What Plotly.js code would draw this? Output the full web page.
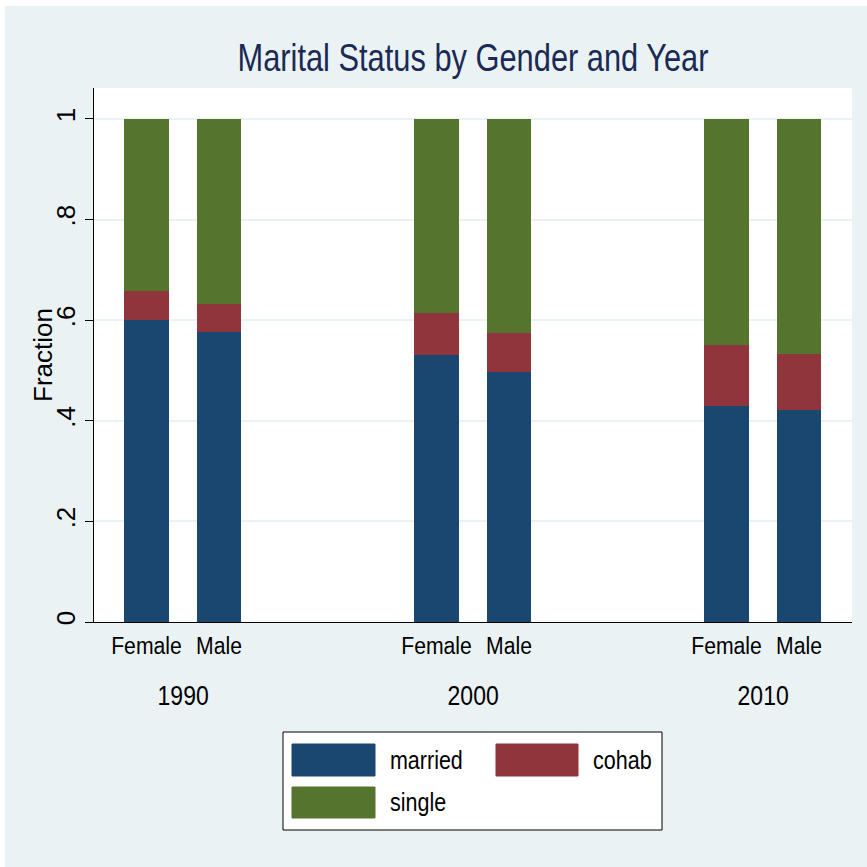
<!DOCTYPE html>
<html>
<head>
<meta charset="utf-8">
<script src="https://cdn.plot.ly/plotly-3.0.1.min.js"></script>
<style>
  html, body { margin: 0; padding: 0; background: #ffffff; }
  #chart { position: absolute; left: 5px; top: 6px; width: 862px; height: 861px; }
</style>
</head>
<body>
<div id="chart"></div>
<script>
// ---- data ----
const years = ['1990', '2000', '2010'];
const genders = ['Female', 'Male'];
const seriesNames = ['married', 'cohab', 'single'];
const married = [0.600, 0.577, 0.531, 0.498, 0.429, 0.421];
const cohab   = [0.058, 0.056, 0.083, 0.077, 0.121, 0.112];
const single  = [0.342, 0.367, 0.386, 0.425, 0.450, 0.467];
const yTickVals = [0, 0.2, 0.4, 0.6, 0.8, 1];
const yTickText = ['0', '.2', '.4', '.6', '.8', '1'];
const yTitle = 'Fraction';

// ---- style ----
const colors = ['#1A476F', '#90353B', '#55752F'];
const font = '"Liberation Sans", Arial, sans-serif';
const bg = '#EAF2F3';

// x layout: groups separated by a gap
const groupStep = 4;
const xs = [], xLabels = [];
years.forEach((y, gi) => genders.forEach((g, si) => { xs.push(gi * groupStep + si); xLabels.push(g); }));
const groupCenters = years.map((y, gi) => gi * groupStep + (genders.length - 1) / 2);

const values = [married, cohab, single];
const traces = seriesNames.map((name, i) => ({
  type: 'bar', name: name, x: xs, y: values[i],
  marker: { color: colors[i], line: { width: 0 } },
  width: 0.62, showlegend: false, hoverinfo: 'x+y+name'
}));

// geometry of plot area (pixels in div)
const W = 862, H = 861;
const M = { l: 89, r: 15, t: 82, b: 245 };
const pw = W - M.l - M.r, ph = H - M.t - M.b;
const px = (x) => (x - M.l) / pw;          // div px -> paper x
const py = (y) => (M.t + ph - y) / ph;     // div px -> paper y

const shapes = [];
const annotations = [];

// year labels
years.forEach((y, gi) => annotations.push({
  text: y, x: groupCenters[gi], xref: 'x', y: py(689), yref: 'paper',
  xanchor: 'center', yanchor: 'middle', showarrow: false,
  font: { family: font, size: 28, color: '#000' }
}));

// legend box
shapes.push({ type: 'rect', xref: 'paper', yref: 'paper',
  x0: px(278), x1: px(657), y0: py(726), y1: py(824),
  line: { color: '#000', width: 1 }, fillcolor: '#ffffff', layer: 'above' });
const legendItems = [
  { x0: 287, x1: 370, y0: 738, y1: 770, tx: 383 },
  { x0: 491, x1: 573, y0: 738, y1: 770, tx: 586 },
  { x0: 287, x1: 370, y0: 781, y1: 812, tx: 383 }
];
legendItems.forEach((it, i) => {
  shapes.push({ type: 'rect', xref: 'paper', yref: 'paper',
    x0: px(it.x0), x1: px(it.x1), y0: py(it.y0), y1: py(it.y1),
    line: { color: colors[i], width: 1 }, fillcolor: colors[i], layer: 'above' });
  annotations.push({ text: seriesNames[i], xref: 'paper', yref: 'paper',
    x: px(it.tx), y: py((it.y0 + it.y1) / 2), xanchor: 'left', yanchor: 'middle',
    showarrow: false, font: { family: font, size: 25, color: '#000' } });
});

// y axis title
annotations.push({ text: yTitle, textangle: -90, xref: 'paper', yref: 'paper',
  x: px(38), y: py(349), xanchor: 'center', yanchor: 'middle', showarrow: false,
  font: { family: font, size: 26, color: '#000' } });

const layout = {
  width: W, height: H,
  paper_bgcolor: bg, plot_bgcolor: '#ffffff',
  margin: M,
  barmode: 'stack',
  title: { text: 'Marital Status by Gender and Year', x: 0.5, xref: 'paper', xanchor: 'center',
    y: 1 - 51 / H, yref: 'container', yanchor: 'middle',
    font: { family: font, size: 39, color: '#1A2A55' } },
  xaxis: {
    range: [-0.724, 9.731], tickvals: xs, ticktext: xLabels,
    showgrid: false, zeroline: false, showline: true, linecolor: '#000', linewidth: 1,
    ticks: 'outside', ticklen: 3, tickcolor: 'rgba(0,0,0,0)',
    tickfont: { family: font, size: 23, color: '#000' }
  },
  yaxis: {
    range: [0, 1.0616], tickvals: yTickVals, ticktext: yTickText, tickangle: -90,
    showgrid: true, gridcolor: bg, gridwidth: 1.5, zeroline: false,
    showline: true, linecolor: '#000', linewidth: 1,
    ticks: 'outside', ticklen: 8, tickcolor: '#000', tickwidth: 1,
    tickfont: { family: font, size: 26, color: '#000' }
  },
  shapes: shapes,
  annotations: annotations
};

// horizontally condense text to mimic the narrow font of the original
function condense(el, s, keepLeft) {
  const w = el.getComputedTextLength();
  if (!w) return;
  el.setAttribute('lengthAdjust', 'spacingAndGlyphs');
  el.setAttribute('textLength', (w * s).toFixed(1));
  if (keepLeft) {
    const x = parseFloat(el.getAttribute('x') || '0');
    el.setAttribute('x', (x - w * (1 - s) / 2).toFixed(1));
  }
}

Plotly.newPlot('chart', traces, layout, { displayModeBar: false, responsive: false }).then((gd) => {
  gd.querySelectorAll('text.gtitle').forEach(el => condense(el, 0.79));
  gd.querySelectorAll('.xtick text').forEach(el => condense(el, 0.92));
  gd.querySelectorAll('.annotation').forEach(g => {
    const idx = +g.getAttribute('data-index');
    const t = g.querySelector('text');
    if (!t) return;
    if (idx < years.length) condense(t, 0.82);
    else if (idx < years.length + seriesNames.length) condense(t, 0.86, true);
  });
});
</script>
</body>
</html>
